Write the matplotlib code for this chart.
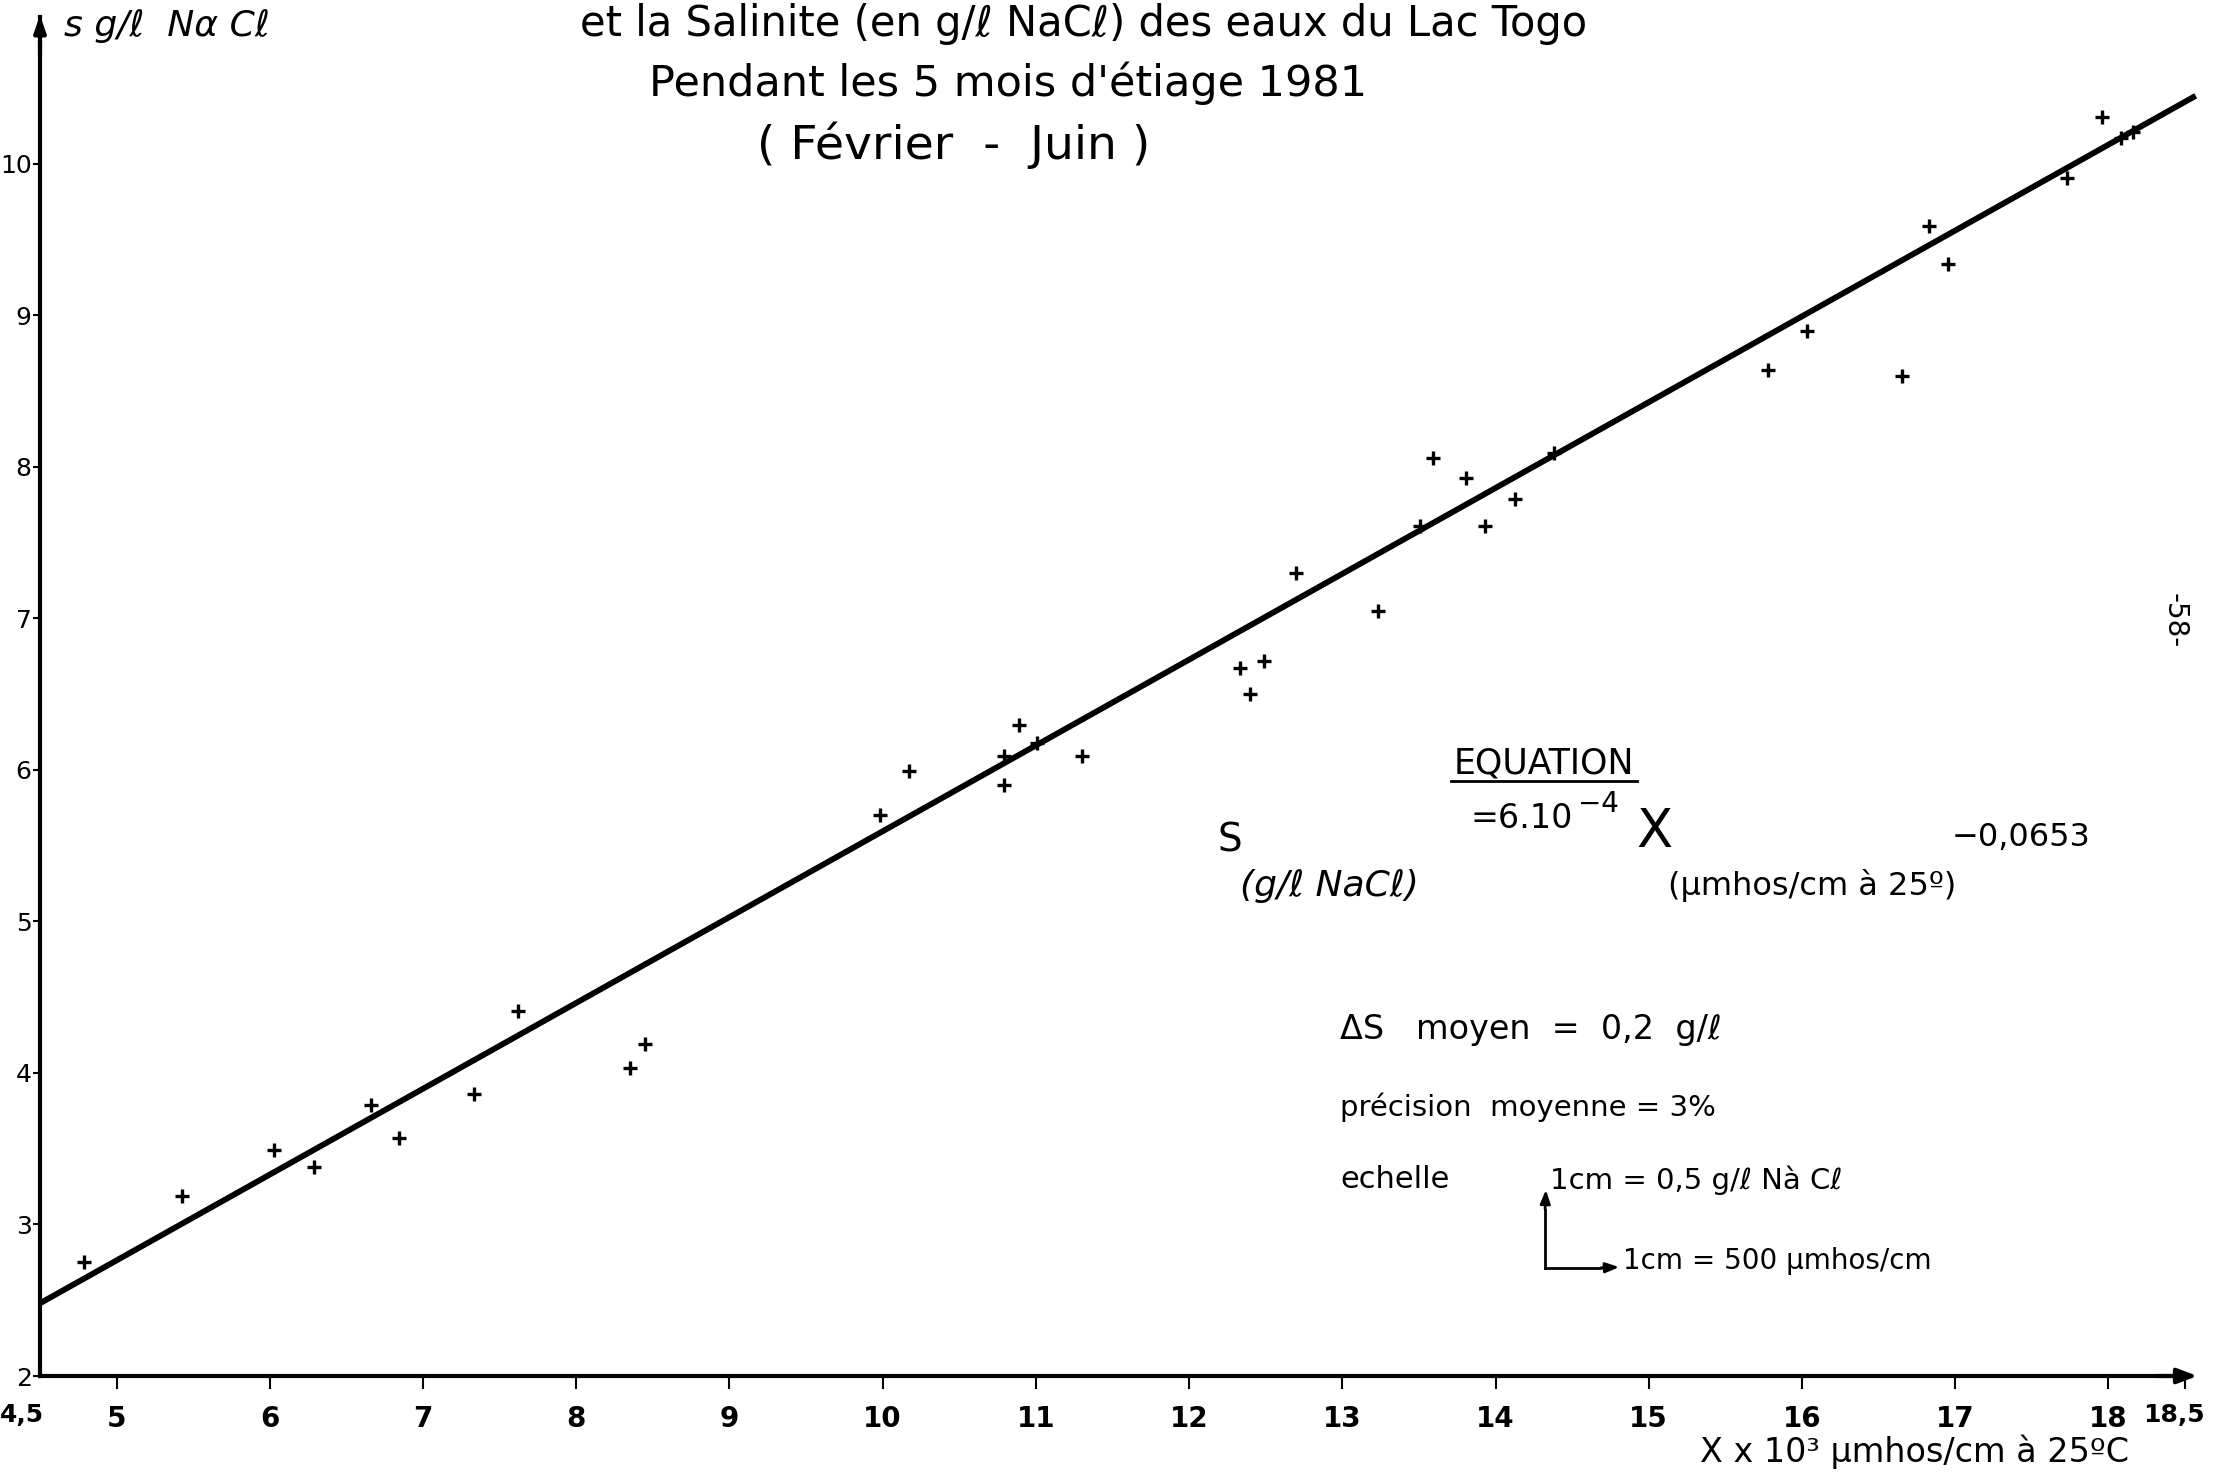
import numpy as np
import matplotlib.pyplot as plt

plt.rcParams['font.family'] = ['DejaVu Sans']

# data
cond = [4.79, 5.43, 6.03, 6.29, 6.66, 6.84, 7.33, 7.62, 8.35, 8.45,
        9.98, 10.17, 10.79, 10.79, 10.89, 11.01, 11.30,
        12.33, 12.40, 12.49, 12.70, 13.23, 13.51, 13.59, 13.81, 13.93, 14.13, 14.38,
        15.78, 16.03, 16.65, 16.83, 16.95, 17.73, 17.96, 18.08, 18.16]
sal = [2.75, 3.19, 3.49, 3.38, 3.79, 3.57, 3.86, 4.41, 4.03, 4.19,
       5.70, 5.99, 6.09, 5.90, 6.30, 6.18, 6.09,
       6.67, 6.50, 6.72, 7.30, 7.05, 7.61, 8.06, 7.93, 7.61, 7.79, 8.09,
       8.64, 8.90, 8.60, 9.59, 9.34, 9.91, 10.31, 10.17, 10.21]
fit_x = [4.5, 18.57]
fit_y = [2.48, 10.45]
xticks = [5, 6, 7, 8, 9, 10, 11, 12, 13, 14, 15, 16, 17, 18]
yticks = [2, 3, 4, 5, 6, 7, 8, 9, 10]

W, H = 2213, 1473
fig = plt.figure(figsize=(W / 100, H / 100), dpi=100)
ax = fig.add_axes([40 / W, 1 - 1376 / H, 2145 / W, 1359 / H])
ax.set_xlim(4.5, 18.5)
ax.set_ylim(2, 10.97)

ax.plot(fit_x, fit_y, color='k', lw=4.2, solid_capstyle='butt', clip_on=False)
ax.plot(cond, sal, ls='none', marker='+', ms=10, mew=2.4, color='k')

for s in ['top', 'right']:
    ax.spines[s].set_visible(False)
for s in ['left', 'bottom']:
    ax.spines[s].set_linewidth(3)

ax.set_xticks(xticks + [18.5])
ax.set_xticklabels([str(t) for t in xticks] + [''], fontsize=20, fontweight='bold')
ax.set_yticks(yticks)
ax.set_yticklabels([str(t) for t in yticks], fontsize=18)
ax.tick_params(axis='x', direction='out', length=9, width=1.5, pad=12)
ax.tick_params(axis='y', direction='out', length=5, width=1.5, pad=1)
ax.text(4.38, 1.74, '4,5', fontsize=18, fontweight='bold', ha='center', va='center')
ax.text(18.43, 1.74, '18,5', fontsize=18, fontweight='bold', ha='center', va='center')

# axis arrows
ax.annotate('', xy=(18.6, 2), xytext=(18.3, 2), annotation_clip=False,
            arrowprops=dict(arrowstyle='-|>,head_length=1.2,head_width=0.45', color='k', lw=3))
ax.annotate('', xy=(4.5, 11.0), xytext=(4.5, 10.7), annotation_clip=False,
            arrowprops=dict(arrowstyle='-|>,head_length=1.0,head_width=0.35', color='k', lw=3))

# axis labels
fig.text(64 / W, 1 - 26 / H, 's g/ℓ  Nα Cℓ', fontsize=26, style='italic', va='center')
fig.text(1700 / W, 1 - 1452 / H, 'X x 10³ µmhos/cm à 25ºC', fontsize=24, va='center')

# title (first line cut off at the top of the page)
fig.text(1084 / W, 1 - 24 / H, 'et la Salinite (en g/ℓ NaCℓ) des eaux du Lac Togo',
         fontsize=30, ha='center', va='center')
fig.text(1008 / W, 1 - 83 / H, "Pendant les 5 mois d'étiage 1981",
         fontsize=31, ha='center', va='center')
fig.text(954 / W, 1 - 145 / H, '( Février  -  Juin )',
         fontsize=34, ha='center', va='center')

# equation block
fig.text(1544 / W, 1 - 764 / H, 'EQUATION', fontsize=25, ha='center', va='center')
fig.add_artist(plt.Line2D([1451 / W, 1637 / W], [1 - 781 / H, 1 - 781 / H], color='k', lw=2))
fig.text(1217 / W, 1 - 841 / H, 'S', fontsize=28, va='center')
fig.text(1240 / W, 1 - 886 / H, '(g/ℓ NaCℓ)', fontsize=26, style='italic', va='center')
fig.text(1471 / W, 1 - 818 / H, '=6.10', fontsize=24, va='center')
fig.text(1578 / W, 1 - 804 / H, '−4', fontsize=20, va='center')
fig.text(1636 / W, 1 - 832 / H, 'X', fontsize=38, va='center')
fig.text(1668 / W, 1 - 885 / H, '(µmhos/cm à 25º)', fontsize=23, va='center')
fig.text(1952 / W, 1 - 837 / H, '−0,0653', fontsize=23, va='center')

fig.text(1340 / W, 1 - 1029 / H, 'ΔS   moyen  =  0,2  g/ℓ', fontsize=24, va='center')
fig.text(1340 / W, 1 - 1107 / H, 'précision  moyenne = 3%', fontsize=21, va='center')
fig.text(1340 / W, 1 - 1179 / H, 'echelle', fontsize=22, va='center')
fig.text(1550 / W, 1 - 1180 / H, '1cm = 0,5 g/ℓ Nà Cℓ', fontsize=21, va='center')
fig.text(1623 / W, 1 - 1261 / H, '1cm = 500 µmhos/cm', fontsize=20, va='center')
fig.add_artist(plt.Line2D([1545 / W, 1545 / W], [1 - 1268 / H, 1 - 1210 / H], color='k', lw=2))
fig.add_artist(plt.Line2D([1545 / W, 1600 / W], [1 - 1268 / H, 1 - 1268 / H], color='k', lw=2))
ax.annotate('', xy=(1546 / W, 1 - 1187 / H), xytext=(1545 / W, 1 - 1212 / H), xycoords='figure fraction',
            arrowprops=dict(arrowstyle='-|>,head_length=0.8,head_width=0.3', color='k', lw=2))
ax.annotate('', xy=(1622 / W, 1 - 1267 / H), xytext=(1598 / W, 1 - 1268 / H), xycoords='figure fraction',
            arrowprops=dict(arrowstyle='-|>,head_length=0.8,head_width=0.3', color='k', lw=2))

# page number
fig.text(2175 / W, 1 - 621 / H, '-58-', fontsize=20, rotation=-90, ha='center', va='center')

fig.savefig('out.png', dpi=100)
